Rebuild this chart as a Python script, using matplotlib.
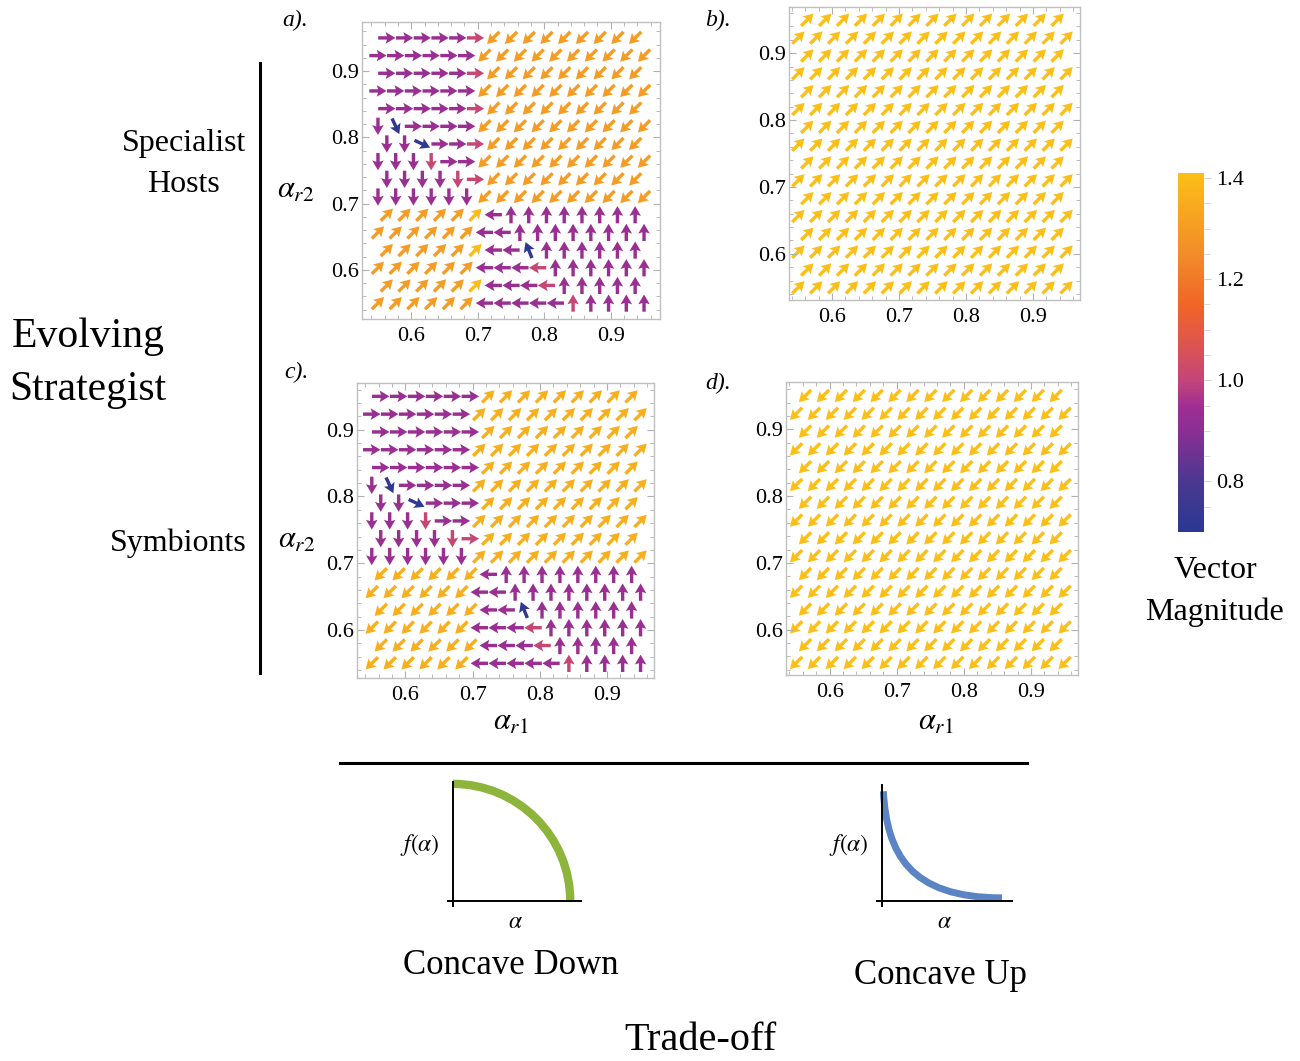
import numpy as np
import matplotlib
matplotlib.use("Agg")
import matplotlib.pyplot as plt
from matplotlib.colors import LinearSegmentedColormap, Normalize
from matplotlib.cm import ScalarMappable
from matplotlib.patches import Arc, PathPatch
from matplotlib.path import Path

plt.rcParams['font.family'] = ['Liberation Serif', 'DejaVu Serif']
plt.rcParams['mathtext.fontset'] = 'stix'

W, H = 1300, 1061

# arrow grid: rows from top (0.95) to bottom (0.55); 15-arrow rows are offset by half a step
grid_lo, grid_hi, grid_n = 0.55, 0.95, 16

# direction codes: r right, l left, u up, d down, e up-right, w down-left,
# s steep down-right, t shallow down-right, n steep up-left
dir_angle = {'r': 0, 'e': 45, 'u': 90, 'n': 112, 'l': 180, 'w': 225, 'd': 270, 's': 295, 't': 335}
# magnitude codes: b blue, p purple, m magenta, o orange, g orange-yellow, y yellow
mag_value = {'b': 0.72, 'p': 0.94, 'm': 1.01, 'o': 1.30, 'g': 1.36, 'y': 1.40}

# panel a) specialist hosts, concave down
a_dirs = ["rrrrrrwwwwwwwww", "rrrrrrwwwwwwwwww", "rrrrrrwwwwwwwww", "rrrrrrwwwwwwwwww",
          "rrrrrrwwwwwwwww", "dsrrrrwwwwwwwwww", "ddtrrrwwwwwwwww", "ddddrrwwwwwwwwww",
          "dddddrwwwwwwwww", "ddddddwwwwwwwwww", "eeeeeeluuuuuuuu", "eeeeeelluuuuuuuu",
          "eeeeeellnuuuuuu", "eeeeeelllluuuuuu", "eeeeeelllluuuuu", "eeeeeellllluuuuu"]
a_mags = ["pppppmooooooooo", "ppppppoooooooooo", "pppppmooooooooo", "ppppppoooooooooo",
          "pppppmooooooooo", "pbppppoooooooooo", "ppbppmooooooooo", "pppmppoooooooooo",
          "ppppmmooooooooo", "ppppppoooooooooo", "oooooyppppppppp", "oooooopppppppppp",
          "oooooyppbpppppp", "oooooopppmpppppp", "oooooypppmppppp", "oooooopppppmpppp"]

# panel c) symbionts, concave down
c_dirs = ["rrrrrreeeeeeeee", "rrrrrreeeeeeeeee", "rrrrrreeeeeeeee", "rrrrrreeeeeeeeee",
          "rrrrrreeeeeeeee", "dsrrrreeeeeeeeee", "ddtrrreeeeeeeee", "ddddrreeeeeeeeee",
          "dddddreeeeeeeee", "ddddddeeeeeeeeee", "wwwwwwluuuuuuuu", "wwwwwwlluuuuuuuu",
          "wwwwwwllnuuuuuu", "wwwwwwlllluuuuuu", "wwwwwwlllluuuuu", "wwwwwwllllluuuuu"]
c_mags = ["ppppppggggggggg", "ppppppgggggggggg", "ppppppggggggggg", "ppppppgggggggggg",
          "ppppppggggggggg", "pbppppgggggggggg", "ppbpppggggggggg", "pppmppgggggggggg",
          "ppppmmggggggggg", "ppppppgggggggggg", "ggggggppppppppp", "ggggggpppppppppp",
          "ggggggppbpppppp", "ggggggpppmpppppp", "ggggggpppmppppp", "ggggggpppppmpppp"]

# panels b) and d): uniform fields (concave up)
b_angle, b_mag = 45, 1.41
d_angle, d_mag = 225, 1.41

cbar_ticks = [0.8, 1.0, 1.2, 1.4]
cbar_range = (0.70, 1.41)
cmap = LinearSegmentedColormap.from_list("sunset", [
    (0.00, "#2b3893"), (0.14, "#4a388f"), (0.28, "#8a2f93"), (0.35, "#9e2f92"),
    (0.42, "#c2457a"), (0.56, "#e65a42"), (0.63, "#f06428"), (0.77, "#f28a2a"),
    (1.00, "#fbbf18")])
norm = Normalize(*cbar_range)


def field(dirs, mags):
    step = (grid_hi - grid_lo) / (grid_n - 1)
    xs, ys, ang, mag = [], [], [], []
    for t, (drow, mrow) in enumerate(zip(dirs, mags)):
        y = grid_hi - t * step
        x0 = grid_lo if len(drow) == grid_n else grid_lo + step / 2
        for k, (dc, mc) in enumerate(zip(drow, mrow)):
            xs.append(x0 + k * step)
            ys.append(y)
            ang.append(dir_angle[dc])
            mag.append(mag_value[mc])
    return np.array(xs), np.array(ys), np.radians(ang), np.array(mag)


def uniform(angle_code, m):
    dirs = [angle_code * (grid_n - 1 if t % 2 == 0 else grid_n) for t in range(grid_n)]
    mags = ['y' * len(r) for r in dirs]
    xs, ys, ang, _ = field(dirs, mags)
    return xs, ys, ang, np.full(len(xs), m)


def panel(px, xr, yr):
    l, r, t, b = px
    ax = fig.add_axes([l / W, 1 - b / H, (r - l) / W, (b - t) / H])
    ax.set_xlim(*xr)
    ax.set_ylim(*yr)
    ax.set_xticks([0.6, 0.7, 0.8, 0.9])
    ax.set_yticks([0.6, 0.7, 0.8, 0.9])
    ax.set_xticks(np.arange(0.54, 0.97, 0.02), minor=True)
    ax.set_yticks(np.arange(0.54, 0.97, 0.02), minor=True)
    ax.xaxis.set_major_formatter('{x:.1f}')
    ax.yaxis.set_major_formatter('{x:.1f}')
    ax.tick_params(which='both', direction='in', top=True, right=True, color='#b0b0b0', labelsize=16)
    ax.tick_params(which='major', length=5, width=0.8)
    ax.tick_params(which='minor', length=3, width=0.6)
    ax.tick_params(axis='x', pad=6)
    ax.tick_params(axis='y', pad=2)
    for s in ax.spines.values():
        s.set_color('#c0c0c0')
        s.set_linewidth(1)
    return ax


def draw(ax, xs, ys, ang, mag):
    L = 0.026
    ax.quiver(xs, ys, L * np.cos(ang), L * np.sin(ang), mag, cmap=cmap, norm=norm,
              angles='xy', scale_units='xy', scale=1, pivot='middle', units='dots',
              width=3.4, headwidth=3.4, headlength=2.9, headaxislength=2.5)


fig = plt.figure(figsize=(W / 100, H / 100), dpi=100)

ov = fig.add_axes([0, 0, 1, 1])
ov.set_xlim(0, W)
ov.set_ylim(H, 0)
ov.axis('off')

ax_a = panel((362, 660, 22, 319), (0.526, 0.974), (0.526, 0.974))
draw(ax_a, *field(a_dirs, a_mags))
ax_b = panel((789, 1080, 7, 300), (0.536, 0.970), (0.531, 0.969))
draw(ax_b, *uniform('e', b_mag))
ax_c = panel((357, 654, 383, 678), (0.528, 0.970), (0.528, 0.970))
draw(ax_c, *field(c_dirs, c_mags))
ax_d = panel((786, 1078, 382, 675), (0.535, 0.970), (0.532, 0.971))
draw(ax_d, *uniform('w', d_mag))

# colorbar
cax = fig.add_axes([1178 / W, 1 - 532 / H, 26 / W, (532 - 173) / H])
cb = fig.colorbar(ScalarMappable(norm=norm, cmap=cmap), cax=cax, ticks=cbar_ticks)
cb.outline.set_visible(False)
cb.ax.yaxis.set_major_formatter('{x:.1f}')
cb.ax.set_yticks(np.arange(0.75, 1.41, 0.05), minor=True)
cb.ax.tick_params(which='both', color='#d0d0d0', labelsize=16, pad=4)
cb.ax.tick_params(which='major', length=5)
cb.ax.tick_params(which='minor', length=4)
ov.text(1215, 571, "Vector", ha='center', va='center', fontsize=23)
ov.text(1215, 612, "Magnitude", ha='center', va='center', fontsize=23)

# panel labels and axis labels
for x, y, s in [(295, 20, "a)."), (718, 20, "b)."), (296, 372, "c)."), (718, 383, "d).")]:
    ov.text(x, y, s, ha='center', va='center', fontsize=17, style='italic')
for x, y in [(296, 190), (297, 540)]:
    ov.text(x, y, r'$\alpha_{r2}$', ha='center', va='center', fontsize=22)
for x, y in [(511, 722), (936, 722)]:
    ov.text(x, y, r'$\alpha_{r1}$', ha='center', va='center', fontsize=22)

# row labels
ov.text(184, 143, "Specialist", ha='center', va='center', fontsize=23)
ov.text(184, 184, "Hosts", ha='center', va='center', fontsize=23)
ov.text(88, 337, "Evolving", ha='center', va='center', fontsize=30)
ov.text(88, 390, "Strategist", ha='center', va='center', fontsize=30)
ov.text(178, 543, "Symbionts", ha='center', va='center', fontsize=23)
ov.plot([260, 260], [63, 673], color='black', lw=2.2)
ov.plot([340, 1027], [763, 763], color='black', lw=2.2)

# trade-off sketches
ax_t1 = fig.add_axes([447 / W, 1 - 907 / H, 135 / W, 129 / H])
ax_t1.set_xlim(-0.05, 1.1)
ax_t1.set_ylim(-0.05, 1.05)
ax_t1.axis('off')
ax_t1.axhline(0, color='black', lw=1.4)
ax_t1.axvline(0, color='black', lw=1.4, ymin=0, ymax=0.97)
ax_t1.add_patch(Arc((0, 0), 2, 2, theta1=0, theta2=90, color='#8db43b', lw=6))

ax_t2 = fig.add_axes([876 / W, 1 - 907 / H, 137 / W, 126 / H])
ax_t2.set_xlim(-0.05, 1.07)
ax_t2.set_ylim(-0.05, 1.05)
ax_t2.axis('off')
ax_t2.axhline(0, color='black', lw=1.4)
ax_t2.axvline(0, color='black', lw=1.4, ymin=0, ymax=0.97)
verts = [(0.01, 0.96), (0.04, 0.42), (0.22, 0.03), (0.98, 0.03)]
ax_t2.add_patch(PathPatch(Path(verts, [Path.MOVETO, Path.CURVE4, Path.CURVE4, Path.CURVE4]),
                          fill=False, edgecolor='#5b84c4', lw=5))

ov.text(420, 845, r'$f(\alpha)$', ha='center', va='center', fontsize=17)
ov.text(515, 922, r'$\alpha$', ha='center', va='center', fontsize=17)
ov.text(511, 965, "Concave Down", ha='center', va='center', fontsize=25)
ov.text(849, 845, r'$f(\alpha)$', ha='center', va='center', fontsize=17)
ov.text(944, 922, r'$\alpha$', ha='center', va='center', fontsize=17)
ov.text(940, 975, "Concave Up", ha='center', va='center', fontsize=25)
ov.text(700, 1040, "Trade-off", ha='center', va='center', fontsize=29)

fig.savefig("out.png", dpi=100)
